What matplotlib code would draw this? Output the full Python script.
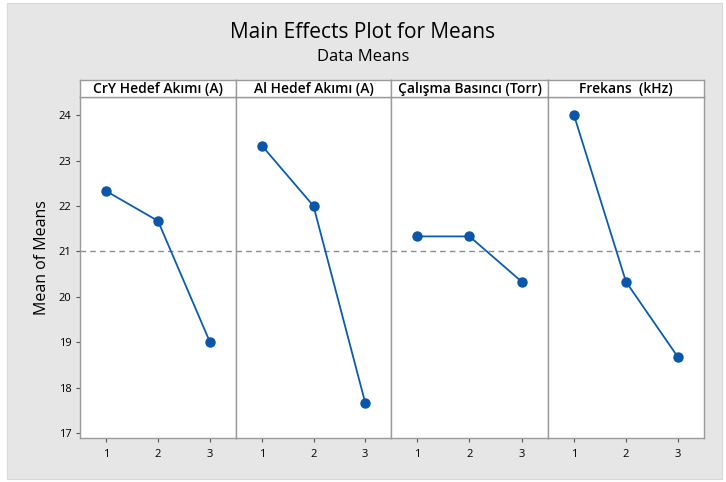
import matplotlib.pyplot as plt
from matplotlib.patches import Rectangle

factors = ['CrY Hedef Akımı (A)', 'Al Hedef Akımı (A)', 'Çalışma Basıncı (Torr)', 'Frekans  (kHz)']
levels = [1, 2, 3]
means = [
    [22.33, 21.67, 19.00],
    [23.33, 22.00, 17.67],
    [21.33, 21.33, 20.33],
    [24.00, 20.33, 18.67],
]
grand_mean = 21.0
y_ticks = [17, 18, 19, 20, 21, 22, 23, 24]

plt.rcParams['font.family'] = ['Open Sans', 'DejaVu Sans']

W, H = 726, 482
fig = plt.figure(figsize=(W / 100, H / 100), dpi=100)
fig.patch.set_facecolor('white')
fig.patches.append(Rectangle((7 / W, 3 / H), 715 / W, 476 / H, transform=fig.transFigure,
                             facecolor='#e6e6e6', edgecolor='#d8d8d8', lw=0.8, zorder=-10))

fig.text(0.5, 1 - 33 / H, 'Main Effects Plot for Means', ha='center', va='center', fontsize=15)
fig.text(0.5, 1 - 57 / H, 'Data Means', ha='center', va='center', fontsize=12)
fig.text(42 / W, 1 - 258 / H, 'Mean of Means', ha='center', va='center', rotation=90, fontsize=11.5)

edges = [80, 236, 391, 548, 704]
top, bottom, strip_top = 97, 438, 80
border = '#9a9a9a'

for i, name in enumerate(factors):
    x0, x1 = edges[i], edges[i + 1]
    ax = fig.add_axes([x0 / W, 1 - bottom / H, (x1 - x0) / W, (bottom - top) / H])
    ax.set_facecolor('white')
    ax.axhline(grand_mean, color='#8c8c8c', ls=(0, (4, 3)), lw=1, zorder=1)
    ax.plot(levels, means[i], color='#0a5cb0', lw=1.3, marker='o', ms=6.5,
            markerfacecolor='#0a56a8', markeredgecolor='#0a56a8', zorder=3)
    ax.set_xlim(0.5, 3.5)
    ax.set_ylim(16.89, 24.4)
    ax.set_xticks(levels)
    ax.set_yticks(y_ticks)
    ax.tick_params(axis='x', labelsize=8, length=3, color='#555555', pad=5)
    ax.tick_params(axis='y', labelsize=8, length=3, color='#555555', pad=3)
    if i > 0:
        ax.tick_params(axis='y', left=False, labelleft=False)
    for s in ax.spines.values():
        s.set_color(border)
        s.set_linewidth(1.0)

    sax = fig.add_axes([x0 / W, 1 - top / H, (x1 - x0) / W, (top - strip_top) / H])
    sax.set_facecolor('white')
    sax.set_xticks([])
    sax.set_yticks([])
    for s in sax.spines.values():
        s.set_color(border)
        s.set_linewidth(1.0)
    sax.text(0.5, 0.45, name, ha='center', va='center', fontsize=10, fontweight='semibold',
             transform=sax.transAxes)

fig.savefig('out.png', dpi=100, facecolor=fig.get_facecolor())
